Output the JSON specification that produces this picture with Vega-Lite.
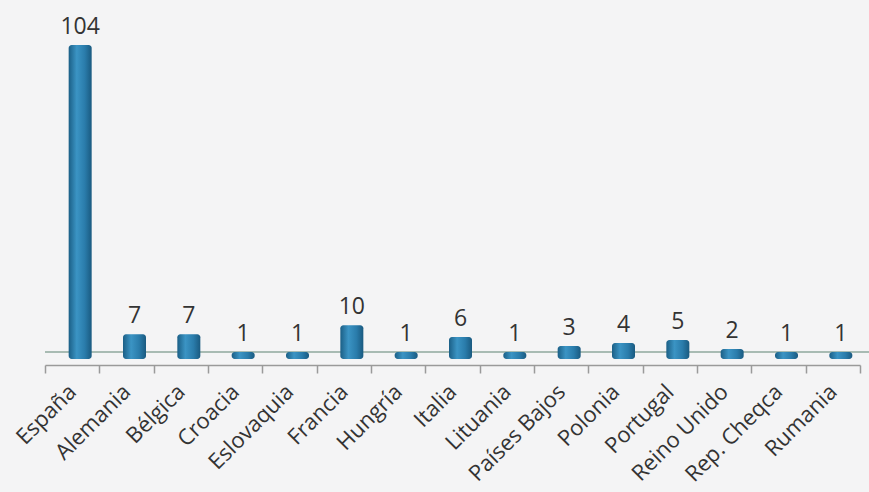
{
  "$schema": "https://vega.github.io/schema/vega-lite/v6.json",
  "autosize": {"type": "none"},
  "width": 815,
  "height": 310,
  "padding": {"left": 45, "top": 48, "right": 9, "bottom": 134},
  "background": "#f4f4f5",
  "config": {"view": {"stroke": null}},
  "data": {
    "values": [
      {"pais": "España", "n": 104},
      {"pais": "Alemania", "n": 7},
      {"pais": "Bélgica", "n": 7},
      {"pais": "Croacia", "n": 1},
      {"pais": "Eslovaquia", "n": 1},
      {"pais": "Francia", "n": 10},
      {"pais": "Hungría", "n": 1},
      {"pais": "Italia", "n": 6},
      {"pais": "Lituania", "n": 1},
      {"pais": "Países Bajos", "n": 3},
      {"pais": "Polonia", "n": 4},
      {"pais": "Portugal", "n": 5},
      {"pais": "Reino Unido", "n": 2},
      {"pais": "Rep. Cheqca", "n": 1},
      {"pais": "Rumania", "n": 1}
    ]
  },
  "layer": [
    {
      "data": {"values": [{"base": 0}]},
      "mark": {"type": "rule", "color": "#8fa89c", "strokeWidth": 1.5, "yOffset": -6, "xOffset": 14},
      "encoding": {"y": {"field": "base", "type": "quantitative", "scale": {"domain": [0, 104], "nice": false, "zero": true}, "axis": null}}
    },
    {
      "mark": {
        "type": "bar",
        "width": 23,
        "xOffset": 8,
        "yOffset": -3,
        "y2Offset": 1,
        "cornerRadiusTopLeft": 3,
        "cornerRadiusTopRight": 3,
        "cornerRadiusBottomLeft": 3,
        "cornerRadiusBottomRight": 3,
        "color": {
          "gradient": "linear",
          "x1": 0, "x2": 1, "y1": 0, "y2": 0,
          "stops": [
            {"offset": 0, "color": "#1b5f86"},
            {"offset": 0.35, "color": "#3b94c4"},
            {"offset": 0.7, "color": "#2a7cab"},
            {"offset": 1, "color": "#1a5a80"}
          ]
        }
      },
      "encoding": {
        "x": {
          "field": "pais",
          "type": "nominal",
          "sort": null,
          "scale": {"paddingInner": 0, "paddingOuter": 0},
          "axis": {
            "title": null,
            "offset": 7,
            "labelAngle": -45,
            "labelAlign": "right",
            "labelBaseline": "middle",
            "labelFont": "Open Sans",
            "labelFontSize": 22,
            "labelColor": "#333333",
            "labelPadding": 15,
            "labelOffset": 0,
            "domainColor": "#9a9a9a",
            "domainWidth": 1.5,
            "tickColor": "#9a9a9a",
            "tickWidth": 1.5,
            "tickSize": 8,
            "tickBand": "extent"
          }
        },
        "y": {"field": "n", "type": "quantitative", "stack": null, "scale": {"domain": [0, 104], "nice": false}, "axis": null},
        "y2": {"datum": 0}
      }
    },
    {
      "mark": {"type": "text", "dy": -21, "xOffset": 8, "font": "Open Sans", "fontSize": 23, "color": "#333333"},
      "encoding": {
        "x": {"field": "pais", "type": "nominal", "sort": null},
        "y": {"field": "n", "type": "quantitative"},
        "text": {"field": "n", "type": "quantitative"}
      }
    }
  ]
}
